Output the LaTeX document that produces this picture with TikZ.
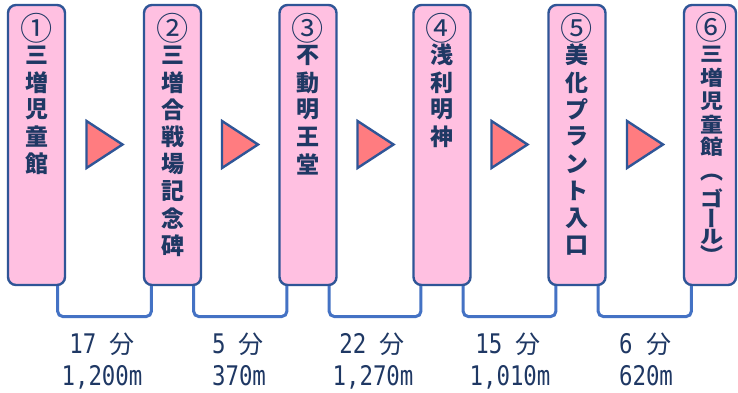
\documentclass[tikz,border=0pt]{standalone}
\usepackage{fontspec}
\newfontfamily\jp{Noto Sans CJK JP}
\newfontfamily\jpv{Noto Sans CJK JP}[RawFeature={+vert}]
\newfontfamily\mono{DejaVu Sans Mono}[FakeStretch=0.83]
\definecolor{boxc}{HTML}{FFC0E1}
\definecolor{bordc}{HTML}{2F5597}
\definecolor{tric}{HTML}{FF7C80}
\definecolor{connc}{HTML}{4472C4}
\definecolor{txtc}{HTML}{1F3864}
\newcommand{\circn}[1]{{\fontseries{m}\selectfont\scalebox{1.4}{#1}}}
\begin{document}
\begin{tikzpicture}[x=1pt,y=-1pt,
  box/.style={draw=bordc, line width=2.4pt, fill=boxc, rounded corners=8pt,
    minimum width=57pt, minimum height=280pt, inner sep=0pt},
  jt/.style={text=txtc, font=\jp\bfseries\fontsize{23}{23}\selectfont, inner sep=0pt},
  jtv/.style={text=txtc, font=\jpv\bfseries\fontsize{23}{23}\selectfont, inner sep=0pt},
  conn/.style={draw=connc, line width=3pt, rounded corners=5pt},
  tri/.style={draw=bordc, line width=2.4pt, fill=tric, line join=miter},
  num/.style={text=txtc, font=\mono\fontsize{27}{27}\selectfont, inner sep=0pt, anchor=base}
]
\useasboundingbox (0,0) rectangle (738,392);
\fill[white] (0,0) rectangle (738,392);

\coordinate (bot) at (0,316.5);

% boxes
\node[box] (b1) at (36.5,145) {};
\node[box] (b2) at (172.5,145) {};
\node[box] (b3) at (308,145) {};
\node[box] (b4) at (442,145) {};
\node[box] (b5) at (577,145) {};
\node[box, minimum width=52pt] (b6) at (710,145) {};

% connectors
\foreach \i/\j in {1/2,2/3,3/4,4/5,5/6}{
  \draw[conn] ([xshift=-8.5pt]b\i.south east) -- ([xshift=-8.5pt]b\i.south east |- bot)
     -- ([xshift=8.5pt]b\j.south west |- bot) -- ([xshift=8.5pt]b\j.south west);
}

% box texts
\node[jt] (ta0) at (36.5,28) {\circn{①}};
\node[jt] (tb0) at (172.5,28) {\circn{②}};
\node[jt] (tc0) at (308,28) {\circn{③}};
\node[jt] (td0) at (442,28) {\circn{④}};
\node[jt] (te0) at (577,28) {\circn{⑤}};
\node[jt] (tf0) at (712,27.5) {\circn{⑥}};
\foreach \c [count=\k] in {三,増,児,童,館}
  \node[jt] (ta\k) at (36.5,{28+27.2*\k}) {\c};
\foreach \c [count=\k] in {三,増,合,戦,場,記,念,碑}
  \node[jt] (tb\k) at (172.5,{28+27.2*\k}) {\c};
\foreach \c [count=\k] in {不,動,明,王,堂}
  \node[jt] (tc\k) at (308,{28+27.2*\k}) {\c};
\foreach \c [count=\k] in {浅,利,明,神}
  \node[jt] (td\k) at (442,{28+27.2*\k}) {\c};
\foreach \c [count=\k] in {美,化,プ,ラ,ン,ト,入,口}
  \node[jt] (te\k) at (577,{28+27.2*\k}) {\c};
\foreach \c/\yy [count=\k] in {三/54.5,増/78,児/101.5,童/124.5,館/147,ゴ/198}
  \node[jt] (tf\k) at (712,\yy) {\scalebox{1}[0.88]{\c}};
\node[jt] (tfr) at (712,236.5) {\scalebox{1}[0.8]{ル}};
\node[jtv] (tfp1) at (712,178) {（};
\node[jtv] (tfl) at (712,218) {ー};
\node[jtv] (tfp2) at (712,254.5) {）};

% triangles
\foreach \m [count=\k] in {104.5,240,375.5,509.5,645}
  \draw[tri] (\m-18,121) -- (\m+18,144.5) -- (\m-18,168) -- cycle;

% labels
\node[num] (m1) at (102,353) {17 {\jp\fontsize{25}{25}\selectfont 分}};
\node[num] (d1) at (102,385) {1,200m};
\node[num] (m2) at (238,353) {5 {\jp\fontsize{25}{25}\selectfont 分}};
\node[num] (d2) at (239,385) {370m};
\node[num] (m3) at (372,353) {22 {\jp\fontsize{25}{25}\selectfont 分}};
\node[num] (d3) at (373,385) {1,270m};
\node[num] (m4) at (508,353) {15 {\jp\fontsize{25}{25}\selectfont 分}};
\node[num] (d4) at (510,385) {1,010m};
\node[num] (m5) at (645,353) {6 {\jp\fontsize{25}{25}\selectfont 分}};
\node[num] (d5) at (646,385) {620m};
\end{tikzpicture}
\end{document}
